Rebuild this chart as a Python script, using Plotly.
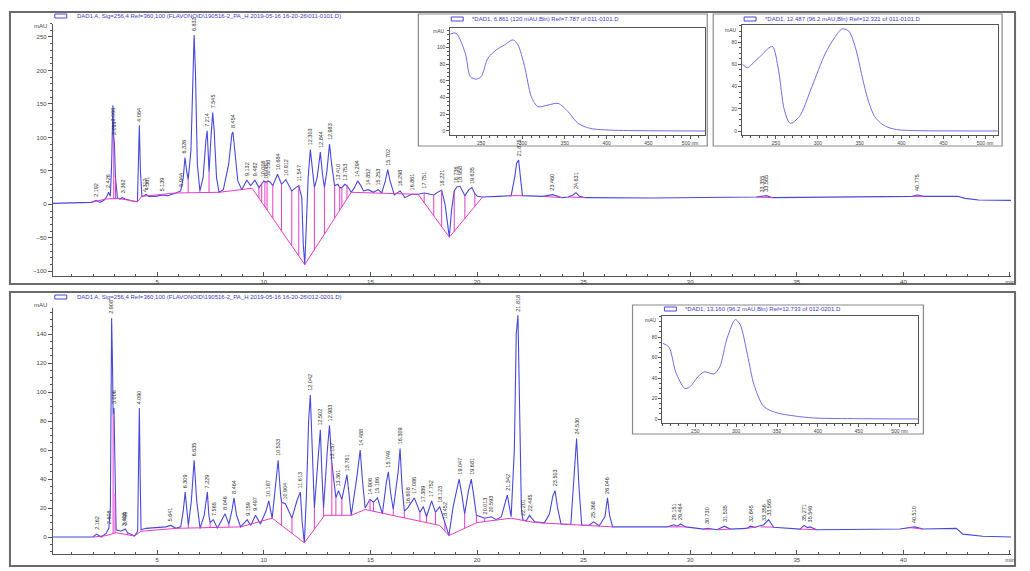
import numpy as np
import plotly.graph_objects as go

W, H = 1030, 571

# ---------------- top chromatogram (DAD1 A, 011-0101.D) ----------------
top_time = [0.1, 1.0, 1.9, 2.15, 2.3, 2.5, 2.62, 2.72, 2.8, 2.86, 2.92, 2.96, 2.99, 3.04, 3.13, 3.25,
            3.37, 3.5, 3.83, 4.07, 4.12, 4.16, 4.21, 4.28, 4.4, 4.47, 4.6, 4.94, 5.24, 5.5, 5.87,
            6.1, 6.22, 6.3, 6.38, 6.45, 6.58, 6.68, 6.73, 6.79, 6.88, 7.0, 7.15, 7.28, 7.34, 7.4,
            7.43, 7.52, 7.6, 7.67, 7.78, 7.9, 8.1, 8.35, 8.5, 8.55, 8.63, 8.78, 8.96, 9.2, 9.38,
            9.58, 9.77, 9.9, 10.0, 10.1, 10.2, 10.3, 10.42, 10.64, 10.83, 11.03, 11.31, 11.5, 11.64,
            11.78, 11.85, 11.92, 11.98, 12.08, 12.18, 12.27, 12.37, 12.5, 12.65, 12.75, 12.84, 12.96,
            13.08, 13.18, 13.32, 13.47, 13.56, 13.66, 13.8, 13.9, 14.1, 14.25, 14.4, 14.55, 14.67,
            14.9, 15.14, 15.37, 15.53, 15.7, 15.81, 15.92, 16.12, 16.39, 16.62, 16.93, 17.24, 17.52,
            17.97, 18.2, 18.34, 18.5, 18.62, 18.7, 18.8, 18.93, 19.05, 19.2, 19.43, 19.62, 19.76,
            19.9, 20.02, 20.26, 21.0, 21.44, 21.6, 21.77, 21.86, 21.95, 22.03, 22.13, 23.08, 23.3,
            23.54, 24.0, 24.28, 24.5, 24.64, 24.8, 25.1, 28.2, 31.0, 33.1, 33.35, 33.58, 33.86,
            37.32, 40.42, 40.66, 40.97, 42.52, 42.9, 43.53, 45.05]
top_mau = [1.5, 2.0, 3.0, 6, 3, 6, 11, 18, 12, 60, 148, 100, 92, 40, 10, 8,
           10, 8, 5, 4, 60, 118, 50, 12, 13, 15, 12, 12, 14, 13, 17,
           20, 40, 70, 50, 37, 80, 210, 253, 200, 60, 20, 40, 95, 110, 70,
           48, 100, 137, 110, 40, 18, 22, 60, 105, 108, 85, 35, 22, 36, 28,
           36, 25, 30, 35, 33, 35, 33, 28, 45, 30, 37, 20, 25, 28,
           10, -60, -90, -40, 40, 82, 50, 25, 40, 78, 45, 25, 50,
           90, 60, 28, 30, 25, 25, 30, 28, 18, 25, 35, 28, 20,
           22, 18, 22, 17, 35, 52, 35, 14, 20, 10, 15, 15, 17,
           14, 19, 21, 0, -35, -49, -10, 20, 26, 27, 13, 22, 25,
           16, 12, 11, 12, 13, 13, 41, 62, 66, 40, 13, 12, 13,
           14.5, 10, 11, 14, 17.5, 12, 10, 9.5, 10, 11, 12, 13, 10,
           11, 12, 14, 12, 12, 9, 6.6, 6]
top_base_time = [1.9, 2.6, 3.13, 3.83, 4.07, 4.28, 5.87, 7.9, 9.45, 11.92, 14.1, 17.24, 18.7, 20.26,
                 None, 21.44, 22.13, None, 23.08, 24.0, None, 24.28, 25.1, None, 33.1, 33.86,
                 None, 40.42, 40.97]
top_base_mau = [3, 8, 9, 5, 4, 12, 17, 18, 24, -90, 18, 15, -49, 11,
                None, 13, 13, None, 12, 10, None, 11, 10, None, 11, 10,
                None, 12, 12]
top_drop_time = [2.96, 3.04, 6.45, 7.0, 7.43, 9.77, 9.9, 10.05, 10.15, 10.42, 10.83, 11.31, 11.64,
                 12.37, 12.84, 13.32, 13.56, 13.66, 13.9, 17.52, 17.97, 18.34, 18.93, 19.43, 19.9]
top_peak_time = [2.15, 2.72, 2.90, 2.97, 3.37, 4.16, 4.4, 4.5, 5.24, 6.1, 6.3, 6.73, 7.34, 7.6,
                 8.55, 9.2, 9.58, 10.0, 10.1, 10.2, 10.64, 11.03, 11.64, 12.18, 12.65, 13.08,
                 13.47, 13.8, 14.4, 14.9, 15.37, 15.81, 16.39, 16.93, 17.52, 18.34, 19.05, 19.2,
                 19.76, 21.95, 23.54, 24.64, 33.35, 33.58, 40.66]
top_peak_label = ["2.192", "2.426", "3.066", "3.099", "3.362", "4.064", "4.312", "4.361", "5.139",
                  "5.944", "6.326", "6.832", "7.214", "7.545", "8.454", "9.132", "9.482", "10.006",
                  "10.081", "10.158", "10.684", "10.912", "11.547", "12.303", "12.844", "12.983",
                  "13.410", "13.753", "14.294", "14.852", "15.253", "15.702", "16.298", "16.861",
                  "17.751", "18.221", "18.736", "18.958", "19.635", "21.875", "23.460", "24.631",
                  "33.355", "33.565", "40.775"]

# ---------------- bottom chromatogram (DAD1 A, 012-0201.D) ----------------
bot_time = [0.1, 1.98, 2.16, 2.37, 2.6, 2.73, 2.8, 2.86, 2.9, 2.93, 2.97, 3.02, 3.07, 3.3, 3.41,
            3.5, 3.61, 3.93, 4.08, 4.13, 4.16, 4.2, 4.24, 4.47, 5.4, 5.64, 5.87, 6.1, 6.22, 6.31,
            6.4, 6.46, 6.6, 6.73, 6.85, 7.01, 7.2, 7.35, 7.42, 7.48, 7.63, 7.82, 8.18, 8.36, 8.5,
            8.6, 8.72, 8.91, 9.22, 9.38, 9.61, 9.84, 10.1, 10.23, 10.39, 10.55, 10.67, 10.78,
            10.83, 11.01, 11.32, 11.55, 11.71, 11.8, 11.9, 12.0, 12.1, 12.18, 12.26, 12.37, 12.55,
            12.65, 12.72, 12.8, 12.98, 13.08, 13.19, 13.3, 13.38, 13.5, 13.66, 13.9, 14.1, 14.35,
            14.52, 14.62, 14.75, 14.98, 15.14, 15.33, 15.56, 15.75, 15.84, 15.95, 16.07, 16.3,
            16.39, 16.48, 16.59, 16.74, 17.06, 17.32, 17.48, 17.63, 17.87, 18.05, 18.25, 18.49,
            18.68, 18.88, 19.05, 19.16, 19.28, 19.42, 19.6, 19.73, 19.85, 19.97, 20.36, 20.67,
            20.9, 21.14, 21.42, 21.6, 21.75, 21.84, 21.92, 22.0, 22.08, 22.15, 22.3, 22.46, 22.7,
            23.16, 23.4, 23.55, 23.66, 23.78, 23.94, 24.4, 24.55, 24.67, 24.78, 24.91, 25.26,
            25.47, 25.73, 26.0, 26.12, 26.22, 26.36, 27.37, 28.93, 29.24, 29.4, 29.55, 29.78,
            30.64, 30.8, 31.26, 31.6, 31.88, 32.66, 32.82, 33.05, 33.45, 33.68, 33.91, 35.16,
            35.34, 35.5, 35.62, 35.93, 39.83, 40.53, 40.92, 42.48, 42.79, 43.72, 45.05]
bot_mau = [0, 0, 2, 0, 2.5, 6, 20, 151, 120, 85, 89, 30, 5, 4, 5,
           5.5, 3, 0.7, 4, 50, 89, 40, 5, 6, 7, 8, 6, 7, 18, 31,
           15, 8, 25, 53, 25, 6, 15, 31, 15, 10, 12, 6, 16, 9, 18,
           27, 15, 7, 12, 8, 15, 9, 18, 25, 13, 35, 53, 30,
           24, 23, 13, 25, 31, 10, -4, 30, 80, 98, 60, 20, 55,
           74, 45, 20, 60, 77, 51, 35, 27, 32, 26, 43, 15, 40,
           60, 40, 20, 26, 24, 27, 16, 38, 45, 30, 19, 45,
           61, 35, 18, 20, 27, 17, 21, 14, 25, 17, 21, 10,
           1, 21, 33, 40, 30, 16, 32, 40, 28, 15, 13, 14,
           12, 14, 29, 14, 60, 140, 153, 80, 20, 12, 11, 15, 10.5,
           9.8, 16, 28, 32, 20, 9, 8.7, 40, 68, 35, 8.3, 8.1,
           10.5, 7.8, 14, 27, 15, 7, 6.8, 7, 8.5, 7.5, 9, 7,
           5.5, 6, 5, 7.5, 5.5, 6, 7.5, 6.8, 8.5, 12, 6.8, 5.5,
           8, 6.5, 7, 5, 5.5, 7, 5.5, 6, 2, 0.5, 0]
bot_base_time = [2.0, 2.6, 3.07, 3.93, 4.24, 5.9, 8.91, 10.39, 11.9, 12.85, 14.1, 14.75, 18.25,
                 18.68, 20.0, 21.6, 22.7, 26.36, None, 29.0, 29.8, None, 30.6, 31.0, None, 31.3,
                 31.9, None, 32.6, 33.1, None, 33.3, 33.9, None, 35.16, 35.93, None, 40.3, 40.9]
bot_base_mau = [0, 1, 3, 0.7, 4, 6, 7, 13, -4, 15, 15, 19, 8,
                1, 10, 13, 10, 7, None, 7, 7, None, 5.5, 5.5, None, 5,
                5.5, None, 6, 6.8, None, 7, 6.8, None, 5.5, 5, None, 6.5, 5.5]
bot_drop_time = [2.93, 3.02, 3.61, 6.46, 7.01, 7.48, 7.82, 8.36, 10.83, 11.32, 12.37, 12.8, 13.19,
                 13.38, 13.66, 14.98, 15.14, 15.56, 16.07, 16.59, 17.32, 17.63, 18.05, 18.49,
                 19.42, 19.97, 20.36, 20.9, 22.15]
bot_peak_time = [2.16, 2.73, 2.86, 2.97, 3.41, 3.5, 4.16, 5.64, 6.31, 6.73, 7.35, 7.63, 8.18, 8.6,
                 9.22, 9.61, 10.23, 10.67, 11.01, 11.71, 12.18, 12.65, 13.08, 13.19, 13.5, 13.9,
                 14.52, 14.98, 15.33, 15.84, 16.39, 16.74, 17.06, 17.48, 17.87, 18.25, 18.49,
                 19.16, 19.73, 20.36, 20.67, 21.42, 21.92, 22.15, 22.46, 23.66, 24.67, 25.47,
                 26.12, 29.24, 29.55, 30.8, 31.6, 32.82, 33.45, 33.68, 35.34, 35.62, 40.53]
bot_peak_label = ["2.162", "2.608", "2.908", "3.006", "3.408", "3.499", "4.090", "5.641", "6.309",
                  "6.635", "7.229", "7.565", "8.046", "8.464", "9.159", "9.497", "10.187", "10.533",
                  "10.904", "11.613", "12.042", "12.502", "12.983", "13.157", "13.361", "13.761",
                  "14.488", "14.906", "15.186", "15.749", "16.309", "16.608", "17.086", "17.389",
                  "17.752", "18.123", "18.452", "19.047", "19.681", "20.013", "20.593", "21.342",
                  "21.818", "22.201", "22.485", "23.503", "24.530", "25.368", "26.046", "29.151",
                  "29.464", "30.730", "31.535", "32.845", "33.356", "33.565", "35.271", "35.546",
                  "40.510"]

# ---------------- UV spectra (insets) ----------------
spec1_nm = [213, 220, 231, 237, 244, 250, 258, 268, 278, 288, 294, 302, 310, 318, 330, 342, 354,
            366, 381, 405, 450, 518]
spec1_mau = [116, 117, 93, 65, 62, 65, 87, 97, 103, 109, 103, 77, 41, 29, 31, 33, 23, 9, 3, 1,
             0.3, 0]
spec2_nm = [210, 216, 225, 235, 240, 246, 253, 260, 267, 278, 293, 309, 320, 329, 337, 345, 353,
            360, 368, 377, 385, 397, 420, 515]
spec2_mau = [60, 57, 63, 70, 74, 76, 55, 19, 7, 13, 40, 70, 84, 92, 90, 75, 49, 28, 13, 6, 3, 1,
             0.3, 0]
spec3_nm = [210, 218, 226, 237, 243, 253, 261, 273, 280, 289, 299, 305, 314, 322, 334, 350, 371,
            395, 450, 523]
spec3_mau = [74, 70, 46, 30, 31, 41, 46, 44, 51, 79, 97, 92, 62, 33, 12, 6, 3, 1, 0.3, 0]

BS = "&#92;"
main_title_top = ("DAD1 A, Sig=256,4 Ref=360,100 (FLAVONOID" + BS + "190516-2_PA_H 2019-05-16 16-20-26"
                  + BS + "011-0101.D)")
main_title_bot = ("DAD1 A, Sig=256,4 Ref=360,100 (FLAVONOID" + BS + "190516-2_PA_H 2019-05-16 16-20-26"
                  + BS + "012-0201.D)")
inset_titles = ["*DAD1, 6.861 (120 mAU,Bln) Ref=7.787 of 011-0101.D",
                "*DAD1, 12.487 (96.2 mAU,Bln) Ref=12.321 of 011-0101.D",
                "*DAD1, 13.160 (96.2 mAU,Bln) Ref=12.733 of 012-0201.D"]

# ---------------- styling ----------------
BLUE = "rgb(72,72,218)"
SPEC = "rgb(110,110,230)"
MAG = "rgb(228,60,200)"
AX = "#555555"
FONT = "Liberation Sans"


def px(x):
    return x / W


def py(y):
    return 1 - y / H


def first_segment(ts, vs):
    bt, bv = [], []
    for t, v in zip(ts, vs):
        if t is None:
            break
        bt.append(t)
        bv.append(v)
    return bt, bv


def drop_lines(drop_t, ct, cv, bts, bvs):
    bt, bv = first_segment(bts, bvs)
    xs, ys = [], []
    for t in drop_t:
        xs += [t, t, None]
        ys += [float(np.interp(t, ct, cv)), float(np.interp(t, bt, bv)), None]
    return xs, ys


fig = go.Figure()

# top chromatogram
fig.add_trace(go.Scatter(x=top_time, y=top_mau, mode="lines", line=dict(color=BLUE, width=1.1),
                         xaxis="x", yaxis="y", hoverinfo="skip"))
dx, dy = drop_lines(top_drop_time, top_time, top_mau, top_base_time, top_base_mau)
fig.add_trace(go.Scatter(x=dx, y=dy, mode="lines", line=dict(color=MAG, width=1),
                         xaxis="x", yaxis="y", hoverinfo="skip"))
fig.add_trace(go.Scatter(x=top_base_time, y=top_base_mau, mode="lines", line=dict(color=MAG, width=1),
                         xaxis="x", yaxis="y", hoverinfo="skip"))

# bottom chromatogram
fig.add_trace(go.Scatter(x=bot_time, y=bot_mau, mode="lines", line=dict(color=BLUE, width=1.1),
                         xaxis="x2", yaxis="y2", hoverinfo="skip"))
dx, dy = drop_lines(bot_drop_time, bot_time, bot_mau, bot_base_time, bot_base_mau)
fig.add_trace(go.Scatter(x=dx, y=dy, mode="lines", line=dict(color=MAG, width=1),
                         xaxis="x2", yaxis="y2", hoverinfo="skip"))
fig.add_trace(go.Scatter(x=bot_base_time, y=bot_base_mau, mode="lines", line=dict(color=MAG, width=1),
                         xaxis="x2", yaxis="y2", hoverinfo="skip"))

# spectra
for nm, mau, xa, ya in [(spec1_nm, spec1_mau, "x3", "y3"), (spec2_nm, spec2_mau, "x4", "y4"),
                        (spec3_nm, spec3_mau, "x5", "y5")]:
    fig.add_trace(go.Scatter(x=nm, y=mau, mode="lines", line=dict(color=SPEC, width=1, shape="spline",
                                                                  smoothing=0.8),
                             xaxis=xa, yaxis=ya, hoverinfo="skip"))

tickfont = dict(family=FONT, size=6, color="#444")


def main_x(domain_anchor):
    return dict(domain=[px(53), px(1015)], range=[0.1, 45.05], anchor=domain_anchor,
                tickmode="array", tickvals=[5, 10, 15, 20, 25, 30, 35, 40, 45],
                ticktext=["5", "10", "15", "20", "25", "30", "35", "40", "min"],
                showline=True, linecolor=AX, linewidth=1, ticks="inside", ticklen=4,
                tickcolor=AX, tickfont=tickfont, showgrid=False, zeroline=False,
                minor=dict(ticks="inside", ticklen=2, tickmode="linear", tick0=0, dtick=1,
                           tickcolor=AX))


def main_y(domain, rng, dtick, minor, anchor):
    return dict(domain=domain, range=rng, anchor=anchor, tickmode="linear", tick0=0, dtick=dtick,
                showline=True, linecolor=AX, linewidth=1, ticks="outside", ticklen=4,
                tickcolor=AX, tickfont=tickfont, showgrid=False, zeroline=False,
                minor=dict(ticks="outside", ticklen=2, tickmode="linear", tick0=0, dtick=minor,
                           tickcolor=AX))


def inset_x(dom, rng, anchor):
    return dict(domain=[px(dom[0]), px(dom[1])], range=rng, anchor=anchor, tickmode="array",
                tickvals=[250, 300, 350, 400, 450, 500],
                ticktext=["250", "300", "350", "400", "450", "500 nm"],
                showline=True, linecolor=AX, linewidth=1, ticks="outside", ticklen=3, tickcolor=AX,
                tickfont=dict(family=FONT, size=5, color="#444"), showgrid=False, zeroline=False,
                mirror=True,
                minor=dict(ticks="outside", ticklen=2, tickmode="linear", tick0=200, dtick=10,
                           tickcolor=AX))


def inset_y(dom, rng, vals, anchor):
    return dict(domain=[py(dom[0]), py(dom[1])], range=rng, anchor=anchor, tickmode="array",
                tickvals=vals, showline=True, linecolor=AX, linewidth=1, ticks="outside",
                ticklen=3, tickcolor=AX, tickfont=dict(family=FONT, size=5, color="#444"),
                showgrid=False, zeroline=False, mirror=True,
                minor=dict(ticks="outside", ticklen=2, tickmode="linear", tick0=0, dtick=5,
                           tickcolor=AX))


fig.update_layout(
    width=W, height=H, margin=dict(l=0, r=0, t=0, b=0),
    paper_bgcolor="white", plot_bgcolor="rgba(0,0,0,0)", showlegend=False,
    font=dict(family=FONT),
    xaxis=main_x("y"),
    yaxis=main_y([py(276), py(23.6)], [-107, 270], 50, 10, "x"),
    xaxis2=main_x("y2"),
    yaxis2=main_y([py(554), py(308)], [-11.7, 158], 20, 5, "x2"),
    xaxis3=inset_x((452, 708), [213, 518], "y3"),
    yaxis3=inset_y((135, 28), [-4.8, 123.2], [0, 20, 40, 60, 80, 100], "x3"),
    xaxis4=inset_x((745, 1002), [209.5, 515.5], "y4"),
    yaxis4=inset_y((135, 25), [-3.6, 95.5], [0, 20, 40, 60, 80], "x4"),
    xaxis5=inset_x((665, 922), [209.8, 523], "y5"),
    yaxis5=inset_y((423, 316), [-3.9, 100.5], [0, 20, 40, 60, 80], "x5"),
)

shapes = []
# panel frames
for (x0, y0, x1, y1) in [(10, 12, 1019, 284), (10, 292, 1019, 566)]:
    shapes.append(dict(type="rect", xref="paper", yref="paper", x0=px(x0), x1=px(x1), y0=py(y1),
                       y1=py(y0), line=dict(color="#6a6a6a", width=2), layer="below"))
# inset frames
for (x0, y0, x1, y1) in [(420, 14, 710, 146), (716, 14, 1006, 146), (635, 305, 927, 434)]:
    shapes.append(dict(type="rect", xref="paper", yref="paper", x0=px(x0), x1=px(x1), y0=py(y1),
                       y1=py(y0), line=dict(color="#8a8a8a", width=1.2), fillcolor="white",
                       layer="below"))
# legend swatches
for (x0, yc) in [(55, 16), (55, 297), (453, 19), (747, 19), (667, 309)]:
    shapes.append(dict(type="rect", xref="paper", yref="paper", x0=px(x0), x1=px(x0 + 12),
                       y0=py(yc + 2), y1=py(yc - 2), line=dict(color=BLUE, width=1)))
fig.update_layout(shapes=shapes)

ann = []
tfont = dict(family=FONT, size=6, color="rgb(60,60,200)")
for (x0, yc, txt) in [(75, 16, main_title_top), (75, 297, main_title_bot),
                      (472, 19, inset_titles[0]), (766, 19, inset_titles[1]),
                      (686, 309, inset_titles[2])]:
    ann.append(dict(xref="paper", yref="paper", x=px(x0), y=py(yc), text=txt, showarrow=False,
                    xanchor="left", yanchor="middle", font=tfont))
for (xr, yc, txt) in [(49, 26, "mAU"), (49, 305, "mAU"), (449, 31, "mAU"), (742, 30, "mAU"),
                      (662, 320, "mAU")]:
    ann.append(dict(xref="paper", yref="paper", x=px(xr), y=py(yc), text=txt, showarrow=False,
                    xanchor="right", yanchor="middle",
                    font=dict(family=FONT, size=5 if xr > 100 else 6, color="#444")))

lfont = dict(family=FONT, size=5.5, color="#333")
for times, labels, ct, cv, xa, ya in [(top_peak_time, top_peak_label, top_time, top_mau, "x", "y"),
                                      (bot_peak_time, bot_peak_label, bot_time, bot_mau, "x2", "y2")]:
    for t, lab in zip(times, labels):
        v = float(np.interp(t, ct, cv))
        ann.append(dict(xref=xa, yref=ya, x=t, y=v, text=lab, showarrow=False, textangle=-90,
                        xanchor="center", yanchor="bottom", yshift=2, font=lfont))
fig.update_layout(annotations=ann)

fig.write_html("out.html")
